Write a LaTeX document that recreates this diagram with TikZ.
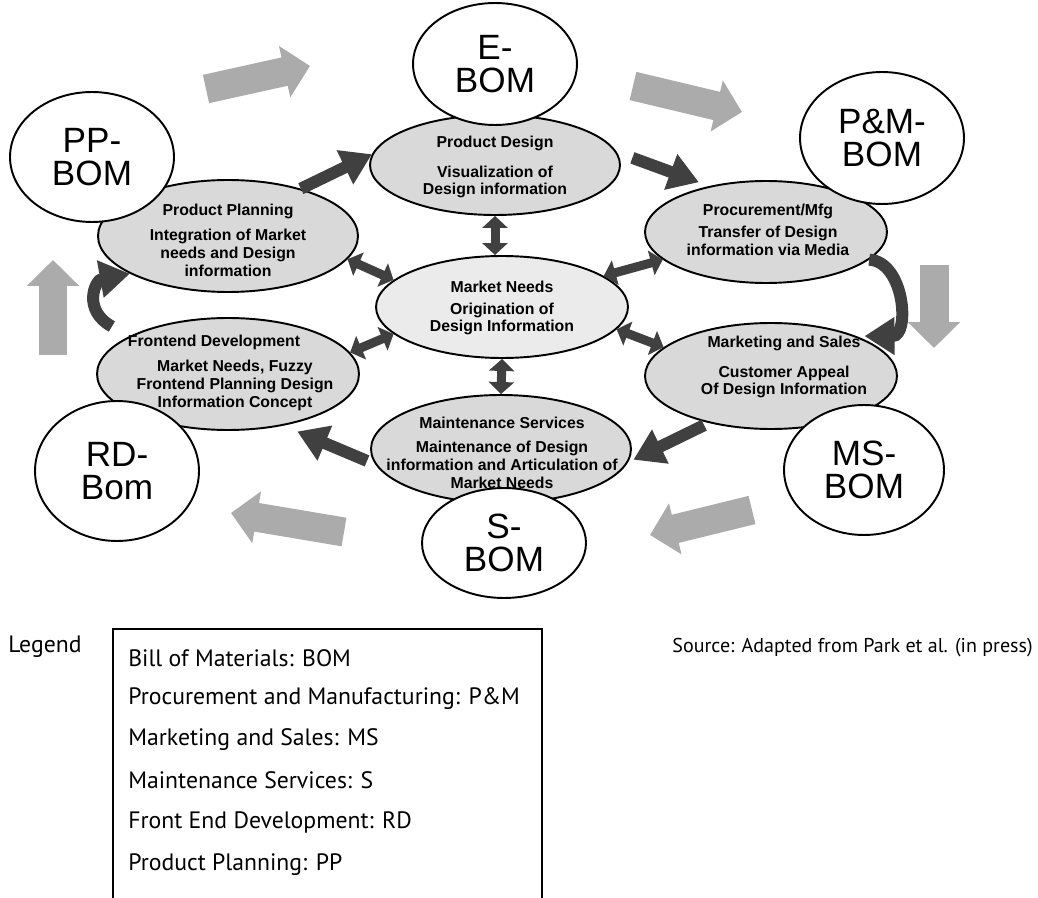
\documentclass[tikz,border=0pt]{standalone}
\usepackage{fontspec}
\setmainfont{Liberation Sans}
\newfontfamily\legendfont{PT Sans}
\usetikzlibrary{arrows.meta,shapes.geometric}

\begin{document}
\begin{tikzpicture}[x=0.02cm,y=0.02cm,
	stage/.style={ellipse,draw,line width=1.1pt,fill=black!15,inner sep=0pt},
	bomcircle/.style={ellipse,draw,line width=1.1pt,fill=white,inner sep=0pt,align=center,
		font=\fontsize{20}{18.5}\selectfont},
	stagetext/.style={align=center,font=\fontsize{9}{10.2}\selectfont\bfseries,inner sep=0pt},
	darkarrow/.style={draw=black!75,line width=0.24cm,-{Triangle[length=0.6cm,width=0.72cm]}},
	twoway/.style={draw=black!75,line width=0.18cm,{Triangle[length=0.24cm,width=0.5cm]}-{Triangle[length=0.24cm,width=0.5cm]}},
	ringarrow/.style={draw=black!33,line width=0.58cm,-{Triangle[length=0.52cm,width=1.02cm]}},
	legendtext/.style={font=\legendfont\fontsize{13.5}{16}\selectfont,anchor=west,inner sep=0pt}]

\useasboundingbox (0,0) rectangle (1038,-898);

% outer ring of grey arrows
\draw[ringarrow] (206,-89) -- (310,-66);
\draw[ringarrow] (633,-86) -- (742,-112);
\draw[ringarrow] (934,-265) -- (934,-348);
\draw[ringarrow] (752,-510) -- (650,-535);
\draw[ringarrow] (344,-532) -- (231,-513);
\draw[ringarrow] (53,-355) -- (53,-260);

% stages
\node[stage,minimum width=5cm,minimum height=2cm] (pdesign) at (495,-165) {};
\node[stage,minimum width=5.2cm,minimum height=2.24cm] (pplan) at (228,-236) {};
\node[stage,minimum width=4.84cm,minimum height=2.04cm] (proc) at (766,-232) {};
\node[stage,fill=black!8,minimum width=5.04cm,minimum height=2.04cm] (mneeds) at (502,-307) {};
\node[stage,minimum width=5.24cm,minimum height=2.24cm] (front) at (228,-374) {};
\node[stage,minimum width=5.04cm,minimum height=2.12cm] (mkt) at (771,-376) {};
\node[stage,minimum width=5.2cm,minimum height=2.16cm] (maint) at (501,-449) {};

\node[stagetext] (pdesign-t) at (495,-167) {Product Design\\[6.8pt]Visualization of\\Design information};
\node[stagetext] (pplan-t) at (228,-240) {Product Planning\\[4pt]Integration of Market\\needs and Design\\information};
\node[stagetext] (proc-t) at (768,-230) {Procurement/Mfg\\[2.3pt]Transfer of Design\\information via Media};
\node[stagetext] (mneeds-t) at (502,-308) {Market Needs\\[2.3pt]Origination of\\Design Information};
\node[stagetext] (front-h) at (214,-342) {Frontend Development};
\node[stagetext] (front-t) at (235,-385) {Market Needs, Fuzzy\\Frontend Planning Design\\Information Concept};
\node[stagetext] (mkt-t) at (784,-367) {Marketing and Sales\\[6.8pt]Customer Appeal\\Of Design Information};
\node[stagetext] (maint-t) at (502,-453) {Maintenance Services\\[3.7pt]Maintenance of Design\\information and Articulation of\\Market Needs};

% bills of materials
\node[bomcircle,minimum width=3.28cm,minimum height=2.44cm] (ebom) at (495,-64) {E-\\BOM};
\node[bomcircle,minimum width=3.28cm,minimum height=2.6cm] (ppbom) at (92,-157) {PP-\\BOM};
\node[bomcircle,minimum width=3.28cm,minimum height=2.64cm] (pmbom) at (882,-138) {P\&M-\\BOM};
\node[bomcircle,minimum width=3.2cm,minimum height=2.6cm] (msbom) at (864,-470) {MS-\\BOM};
\node[bomcircle,minimum width=3.28cm,minimum height=2.8cm] (rdbom) at (117,-471) {RD-\\Bom};
\node[bomcircle,minimum width=3.28cm,minimum height=2.2cm] (sbom) at (504,-543) {S-\\BOM};

% flow between stages
\draw[darkarrow] (pplan.33) -- (pdesign.175);
\draw[darkarrow,shorten <=0.33cm,shorten >=0.22cm] (pdesign.6) -- (proc.141);
\draw[darkarrow,shorten >=0.16cm] (proc.-15) .. controls (905,-262) and (910,-336) .. (mkt.25);
\draw[darkarrow,shorten <=0.1cm,shorten >=0.12cm] (mkt.217) -- (maint.-6);
\draw[darkarrow,shorten <=0.18cm,shorten >=0.3cm] (maint.187) -- (front.-43);
\draw[darkarrow,shorten <=0.4cm] (front.159) .. controls (82,-310) and (95,-280) .. (pplan.201);

% links with market needs
\draw[twoway] (pdesign.south) -- (pdesign.south |- mneeds.north);
\draw[twoway] (mneeds.south) -- (maint.north);
\draw[twoway] (pplan.-11) -- (mneeds.166);
\draw[twoway] (proc.195) -- (mneeds.17);
\draw[twoway] (front.10) -- (mneeds.194);
\draw[twoway] (mkt.165) -- (mneeds.-11);

% legend
\node[legendtext] (legendlbl) at (8,-647) {Legend};
\draw[line width=0.8pt] (113,-900) -- (113,-629) -- (542,-629) -- (542,-900);
\foreach \y/\entry [count=\i] in {658/Bill of Materials: BOM,
	699/Procurement and Manufacturing: P\&M,
	740/Marketing and Sales: MS,
	780/Maintenance Services: S,
	822/Front End Development: RD,
	865/Product Planning: PP} {
	\node[legendtext] (entry\i) at (128,-\y) {\entry};
}
\node[legendtext,anchor=east,font=\legendfont\fontsize{11.4}{14}\selectfont] (source) at (1033,-648) {Source: Adapted from Park et al. (in press)};
\end{tikzpicture}
\end{document}
